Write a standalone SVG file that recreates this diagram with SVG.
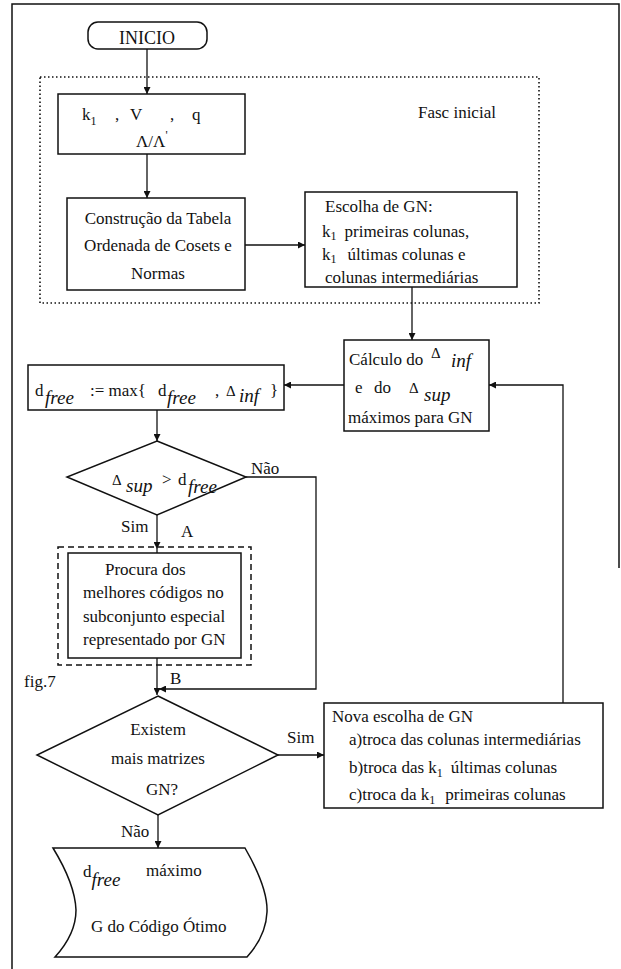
<svg xmlns="http://www.w3.org/2000/svg" width="621" height="969" viewBox="0 0 621 969">
<defs>
<marker id="ah" viewBox="0 0 10 10" refX="10" refY="5" markerWidth="9" markerHeight="7" markerUnits="userSpaceOnUse" orient="auto">
<path d="M0,0 L10,5 L0,10 z" fill="#111"/>
</marker>
<style>
text{font-family:"Liberation Serif","Times New Roman",serif;font-size:17px;fill:#111}
.it{font-style:italic;font-size:19px}
.dl{font-size:15px}
.sb{font-size:12px}
.box{fill:none;stroke:#111;stroke-width:1.5}
.ln{fill:none;stroke:#111;stroke-width:1.3}
.arr{fill:none;stroke:#111;stroke-width:1.3;marker-end:url(#ah)}
</style>
</defs>
<rect width="621" height="969" fill="#fff"/>
<g id="frame">
<path class="box" d="M12,969 V4 H619 V568"/>
</g>
<g id="fase-inicial">
<rect x="40" y="77" width="499" height="226" fill="none" stroke="#111" stroke-width="1.6" stroke-dasharray="1.5,2.5"/>
<text x="418" y="118">Fasc inicial</text>
</g>
<g id="inicio">
<rect class="box" x="88" y="22" width="119" height="27" rx="10"/>
<text x="147" y="44" text-anchor="middle" style="font-size:18px">INICIO</text>
</g>
<g id="params">
<rect class="box" x="58" y="94" width="187" height="60"/>
<text x="82" y="120">k<tspan class="sb" dy="5">1</tspan></text>
<text x="115" y="120">,</text>
<text x="130" y="120">V</text>
<text x="170" y="120">,</text>
<text x="192" y="120">q</text>
<text x="136" y="147">Λ/Λ<tspan class="sb" dy="-8">'</tspan></text>
</g>
<g id="construcao">
<rect class="box" x="67" y="198" width="178" height="92"/>
<text x="158" y="224" text-anchor="middle">Construção da Tabela</text>
<text x="158" y="251" text-anchor="middle">Ordenada de Cosets e</text>
<text x="158" y="279" text-anchor="middle">Normas</text>
</g>
<g id="escolha">
<rect class="box" x="305" y="192" width="212" height="95"/>
<text x="325" y="212">Escolha de GN:</text>
<text x="322" y="237">k<tspan class="sb" dy="3">1</tspan><tspan dy="-3" dx="8">primeiras colunas,</tspan></text>
<text x="322" y="260">k<tspan class="sb" dy="3">1</tspan><tspan dy="-3" dx="11">últimas colunas e</tspan></text>
<text x="325" y="283">colunas intermediárias</text>
</g>
<g id="calculo">
<rect class="box" x="344" y="340" width="145" height="91"/>
<text x="349" y="365">Cálculo do</text>
<text class="dl" x="431" y="358">Δ</text><text class="it" x="451" y="367">inf</text>
<text x="355" y="393">e</text><text x="374" y="393">do</text>
<text class="dl" x="409" y="393">Δ</text><text class="it" x="424" y="401">sup</text>
<text x="348" y="423">máximos para GN</text>
</g>
<g id="dfree-max">
<rect class="box" x="28" y="365" width="256" height="45"/>
<text x="35" y="396">d</text><text class="it" x="45" y="404">free</text>
<text x="90" y="396">:= max{</text>
<text x="158" y="396">d</text><text class="it" x="167" y="404">free</text>
<text x="215" y="396">,</text>
<text class="dl" x="226" y="396">Δ</text><text class="it" x="239" y="402">inf</text>
<text x="270" y="396">}</text>
</g>
<g id="teste-sup">
<polygon class="box" points="157,441 246,477 157,515 67,477"/>
<text class="dl" x="112" y="485">Δ</text><text class="it" x="126" y="492">sup</text>
<text x="162" y="485">&gt;</text>
<text x="178" y="485">d</text><text class="it" x="188" y="493">free</text>
<text x="251" y="474">Não</text>
<text x="121" y="532">Sim</text>
<text x="181" y="537">A</text>
</g>
<g id="procura">
<rect x="58" y="547" width="193" height="118" fill="none" stroke="#111" stroke-width="1.5" stroke-dasharray="6,4"/>
<rect class="box" x="68" y="553" width="173" height="105"/>
<text x="105" y="575">Procura dos</text>
<text x="83" y="598">melhores códigos no</text>
<text x="83" y="622">subconjunto especial</text>
<text x="83" y="645">representado por GN</text>
<text x="24" y="687">fig.7</text>
<text x="170" y="684">B</text>
</g>
<g id="existem">
<polygon class="box" points="158,696 278,755 158,815 37,755"/>
<text x="158" y="735" text-anchor="middle">Existem</text>
<text x="158" y="764" text-anchor="middle">mais matrizes</text>
<text x="162" y="795" text-anchor="middle">GN?</text>
<text x="287" y="743">Sim</text>
<text x="121" y="837">Não</text>
</g>
<g id="nova-escolha">
<rect class="box" x="324" y="703" width="279" height="105"/>
<text x="332" y="722">Nova escolha de GN</text>
<text x="349" y="745">a)troca das colunas intermediárias</text>
<text x="349" y="773">b)troca das k<tspan class="sb" dy="4">1</tspan><tspan dy="-4" dx="8">últimas colunas</tspan></text>
<text x="349" y="800">c)troca da k<tspan class="sb" dy="4">1</tspan><tspan dy="-4" dx="10">primeiras colunas</tspan></text>
</g>
<g id="resultado">
<path class="box" d="M53,848 H245 Q268,888 267,912 Q266,936 247,957 H55 Q76,934 76,910 Q75,884 53,848 Z"/>
<text x="83" y="877">d<tspan class="it" dy="9">free</tspan></text>
<text x="146" y="876">máximo</text>
<text x="91" y="932">G do  Código Ótimo</text>
</g>
<g id="connectors">
<line class="arr" x1="147" y1="49" x2="147" y2="94"/>
<line class="arr" x1="147" y1="154" x2="147" y2="198"/>
<line class="arr" x1="245" y1="245" x2="305" y2="245"/>
<line class="arr" x1="412" y1="287" x2="412" y2="340"/>
<line class="arr" x1="344" y1="385" x2="284" y2="385"/>
<line class="arr" x1="157" y1="410" x2="157" y2="441"/>
<line class="arr" x1="157" y1="515" x2="157" y2="549"/>
<line class="ln" x1="157" y1="549" x2="157" y2="553"/>
<line class="arr" x1="157" y1="658" x2="157" y2="695"/>
<path class="arr" d="M246,477 H316 V689 H159"/>
<line class="arr" x1="278" y1="755" x2="324" y2="755"/>
<path class="arr" d="M563,703 V385 H489"/>
<line class="arr" x1="158" y1="815" x2="158" y2="848"/>
</g>
</svg>
